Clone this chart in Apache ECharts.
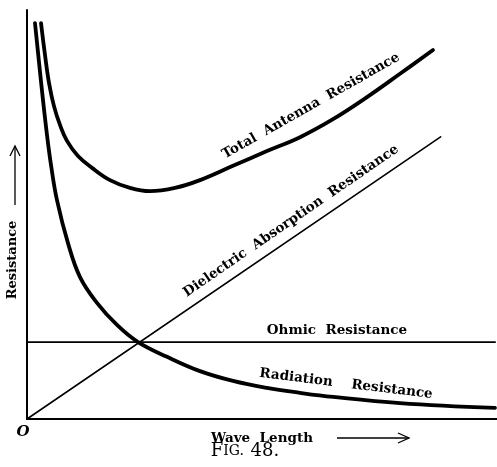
<!DOCTYPE html>
<html>
<head>
<meta charset="utf-8">
<script src="https://cdn.jsdelivr.net/npm/echarts@6/dist/echarts.min.js"></script>
<style>
  html, body { margin: 0; padding: 0; background: #fff; }
  #chart { width: 497px; height: 467px; }
</style>
</head>
<body>
<div id="chart"></div>
<script>
// Resistance curves vs. wave length (arbitrary units, 0–100 on both axes)
const totalAntenna = [
  [2.98, 96.8], [3.83, 89.0], [4.68, 82.2], [5.74, 76.5], [7.02, 71.9],
  [8.51, 68.0], [10.85, 64.3], [13.83, 61.4], [17.66, 58.4], [21.91, 56.5],
  [26.17, 55.7], [31.49, 56.5], [36.81, 58.4], [43.83, 61.9], [51.06, 65.5],
  [58.09, 68.9], [65.11, 73.3], [72.34, 78.7], [79.36, 84.4], [86.38, 90.2]
];
const radiation = [
  [1.70, 96.8], [2.55, 87.3], [3.40, 78.0], [4.26, 69.4], [5.11, 62.1],
  [6.38, 53.5], [8.72, 43.0], [11.28, 34.7], [14.89, 28.4], [19.15, 23.0],
  [23.62, 18.8], [29.79, 15.2], [36.81, 11.7], [43.83, 9.3], [51.06, 7.6],
  [58.09, 6.4], [65.11, 5.4], [79.36, 3.9], [99.57, 2.7]
];
const dielectric = [[0, 0], [88, 69]];
const ohmic = [[0, 18.8], [99.6, 18.8]];

const INK = '#000';
const SERIF = '"DejaVu Serif", "Liberation Serif", serif';

const chart = echarts.init(document.getElementById('chart'), null, { renderer: 'canvas' });

function curve(name, data, width, smooth) {
  return {
    name, type: 'line', data, smooth,
    symbol: 'none', silent: true, animation: false,
    lineStyle: { color: INK, width, cap: 'round', join: 'round' }
  };
}

const deg = d => d * Math.PI / 180;

function label(text, x, y, rot, size) {
  return {
    type: 'text', x, y, rotation: deg(rot || 0),
    style: {
      text, fill: INK, font: 'bold ' + (size || 13) + 'px ' + SERIF,
      align: 'center', verticalAlign: 'middle'
    }
  };
}

chart.setOption({
  backgroundColor: '#fff',
  animation: false,
  grid: { left: 27, top: 10, right: 0, bottom: 48 },
  xAxis: {
    type: 'value', min: 0, max: 100,
    axisLine: { show: true, onZero: false, lineStyle: { color: INK, width: 2 } },
    axisTick: { show: false }, axisLabel: { show: false }, splitLine: { show: false }
  },
  yAxis: {
    type: 'value', min: 0, max: 100,
    axisLine: { show: true, onZero: false, lineStyle: { color: INK, width: 2 } },
    axisTick: { show: false }, axisLabel: { show: false }, splitLine: { show: false }
  },
  series: [
    curve('Total Antenna Resistance', totalAntenna, 3.8, 0.4),
    curve('Radiation Resistance', radiation, 3.8, 0.4),
    curve('Dielectric Absorption Resistance', dielectric, 1.6, false),
    curve('Ohmic Resistance', ohmic, 1.8, false)
  ],
  graphic: [
    label('Total  Antenna  Resistance', 311, 106, 29.5, 13.5),
    label('Dielectric  Absorption  Resistance', 291, 221, 34.5, 13.5),
    label('Ohmic  Resistance', 337, 330, 0, 13.5),
    label('Radiation    Resistance', 346, 384, -7, 13.5),
    label('Resistance', 13, 260, 90, 13),
    label('Wave  Length', 262, 438, 0, 13.5),
    // axis direction arrows
    {
      type: 'polyline', shape: { points: [[15, 205], [15, 146]] },
      style: { stroke: INK, lineWidth: 1.3, fill: null }
    },
    {
      type: 'polyline', shape: { points: [[10, 156], [15, 146], [20, 156]] },
      style: { stroke: INK, lineWidth: 1.3, fill: null }
    },
    {
      type: 'polyline', shape: { points: [[337, 438], [409, 438]] },
      style: { stroke: INK, lineWidth: 1.3, fill: null }
    },
    {
      type: 'polyline', shape: { points: [[398, 433], [409, 438], [398, 443]] },
      style: { stroke: INK, lineWidth: 1.3, fill: null }
    },
    // origin mark
    {
      type: 'text', x: 23, y: 432,
      style: { text: 'O', fill: INK, font: 'italic bold 15px ' + SERIF, align: 'center', verticalAlign: 'middle' }
    },
    // figure caption in small caps
    {
      type: 'text', x: 245, y: 451,
      style: {
        text: '{b|F}{s|IG.}  {b|48.}',
        align: 'center', verticalAlign: 'middle',
        rich: {
          b: { font: '18px ' + SERIF, fill: INK },
          s: { font: '14px ' + SERIF, fill: INK }
        }
      }
    }
  ]
});
</script>
</body>
</html>
